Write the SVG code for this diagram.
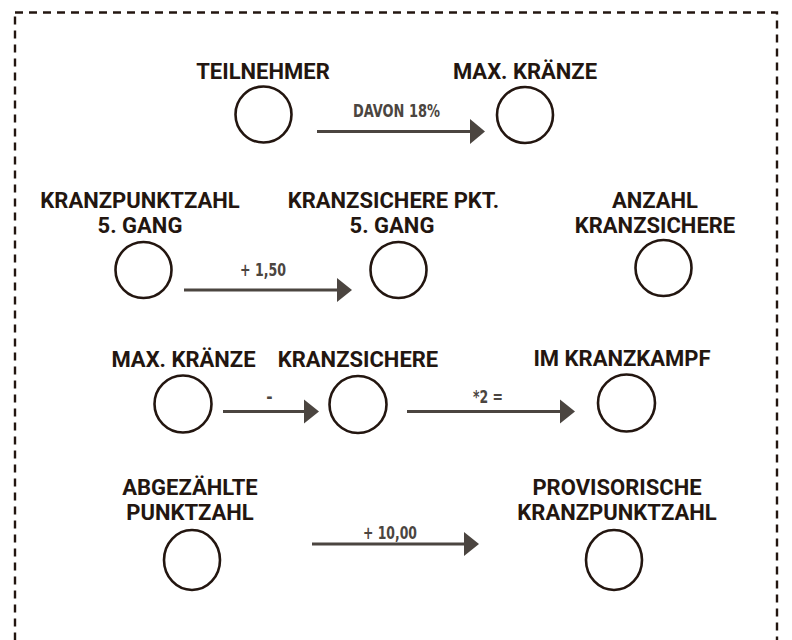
<svg xmlns="http://www.w3.org/2000/svg" width="792" height="640" viewBox="0 0 792 640">
<defs>
<style>
.h{font-family:Roboto,"Liberation Sans",sans-serif;font-weight:bold;font-size:22px;fill:#231610;text-anchor:middle}
.c{fill:none;stroke:#231610;stroke-width:2.6}
.l{font-family:"DejaVu Sans Condensed","DejaVu Sans",sans-serif;font-weight:bold;font-size:17px;fill:#4b4540;text-anchor:middle}
.a{stroke:#4b4540;stroke-width:3;fill:none}
.ah{fill:#4b4540}
</style>
</defs>
<rect width="792" height="640" fill="#ffffff"/>
<rect x="15" y="12.5" width="762" height="700" fill="none" stroke="#231610" stroke-width="2.4" stroke-dasharray="8,6"/>
<g id="teilnehmer"><text class="h" x="263" y="79">TEILNEHMER</text><circle class="c" cx="263.5" cy="114.5" r="28"/></g>
<g id="max-kraenze-1"><text class="h" x="525" y="79">MAX. KRÄNZE</text><circle class="c" cx="525" cy="115" r="28"/></g>
<g id="kranzpunktzahl"><text class="h" x="140" y="208">KRANZPUNKTZAHL</text><text class="h" x="140" y="233">5. GANG</text><circle class="c" cx="143.5" cy="270" r="28"/></g>
<g id="kranzsichere-pkt"><text class="h" x="393.5" y="208">KRANZSICHERE PKT.</text><text class="h" x="392" y="233">5. GANG</text><circle class="c" cx="398.5" cy="270" r="28"/></g>
<g id="anzahl-kranzsichere"><text class="h" x="655" y="208">ANZAHL</text><text class="h" x="655" y="233">KRANZSICHERE</text><circle class="c" cx="663.5" cy="268" r="28"/></g>
<g id="max-kraenze-2"><text class="h" x="183.5" y="367">MAX. KRÄNZE</text><circle class="c" cx="183" cy="404" r="28.5"/></g>
<g id="kranzsichere"><text class="h" x="358" y="367">KRANZSICHERE</text><circle class="c" cx="358" cy="404.5" r="28.5"/></g>
<g id="im-kranzkampf"><text class="h" x="622" y="366">IM KRANZKAMPF</text><circle class="c" cx="626.5" cy="403" r="28.5"/></g>
<g id="abgezaehlte"><text class="h" x="190" y="495">ABGEZÄHLTE</text><text class="h" x="190" y="520">PUNKTZAHL</text><ellipse class="c" cx="192" cy="560" rx="28" ry="30"/></g>
<g id="provisorische"><text class="h" x="617" y="495">PROVISORISCHE</text><text class="h" x="617" y="520">KRANZPUNKTZAHL</text><ellipse class="c" cx="614" cy="560" rx="28" ry="30"/></g>
<g id="connectors">
<line class="a" x1="317" y1="131.5" x2="472" y2="131.5"/><polygon class="ah" points="470,119 485,131.5 470,144"/>
<text class="l" x="396.5" y="117" textLength="87" lengthAdjust="spacingAndGlyphs">DAVON 18%</text>
<line class="a" x1="184" y1="290" x2="339" y2="290"/><polygon class="ah" points="337,278 352,290 337,302"/>
<text class="l" x="263" y="276" textLength="46" lengthAdjust="spacingAndGlyphs">+ 1,50</text>
<line class="a" x1="223" y1="411.5" x2="306" y2="411.5"/><polygon class="ah" points="304,399.5 319,411.5 304,423.5"/>
<text class="l" x="269.5" y="403">-</text>
<line class="a" x1="407" y1="411.5" x2="562" y2="411.5"/><polygon class="ah" points="560,399.5 575,411.5 560,423.5"/>
<text class="l" x="488" y="403" textLength="30" lengthAdjust="spacingAndGlyphs">*2 =</text>
<line class="a" x1="312" y1="544" x2="466" y2="544"/><polygon class="ah" points="464,532 479,544 464,556"/>
<text class="l" x="390" y="539" textLength="54" lengthAdjust="spacingAndGlyphs">+ 10,00</text>
</g>
</svg>
